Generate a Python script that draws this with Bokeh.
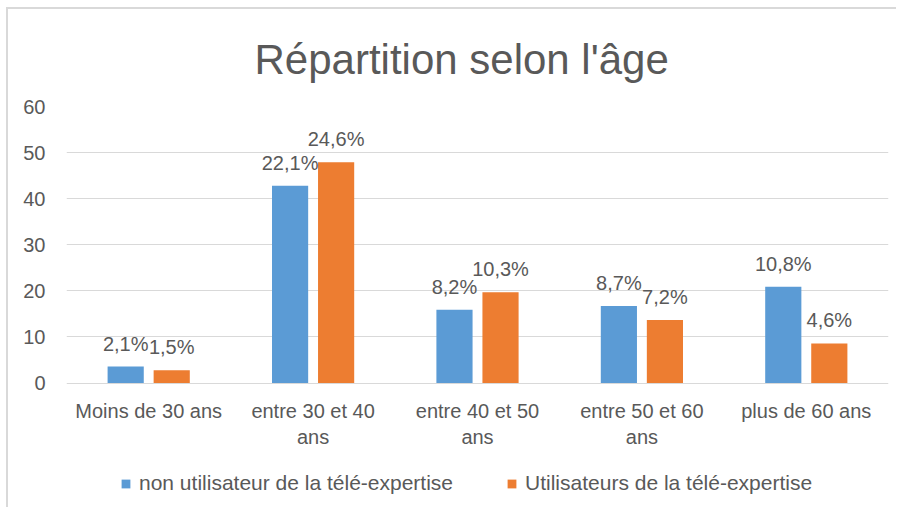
from bokeh.plotting import figure
from bokeh.models import (ColumnDataSource, FactorRange, Range1d, LabelSet, Legend,
                          LegendItem, Title, FixedTicker)
from bokeh.core.properties import value
from bokeh.transform import dodge
from bokeh.embed import file_html
from bokeh.resources import INLINE

categories = ["Moins de 30 ans", "entre 30 et 40 ans", "entre 40 et 50 ans",
              "entre 50 et 60 ans", "plus de 60 ans"]
category_line1 = ["Moins de 30 ans", "entre 30 et 40", "entre 40 et 50",
                  "entre 50 et 60", "plus de 60 ans"]
category_line2 = ["", "ans", "ans", "ans", ""]
non_users = [3.6, 42.8, 15.9, 16.7, 20.9]
users = [2.8, 47.9, 19.7, 13.7, 8.6]
non_users_labels = ["2,1%", "22,1%", "8,2%", "8,7%", "10,8%"]
users_labels = ["1,5%", "24,6%", "10,3%", "7,2%", "4,6%"]
series_names = ["non utilisateur de la télé-expertise", "Utilisateurs de la télé-expertise"]
y_ticks = [0, 10, 20, 30, 40, 50, 60]

FONT = "Liberation Sans"
TXT = "#595959"
GRID = "#d9d9d9"
BLUE = "#5b9bd5"
ORANGE = "#ed7d31"

src = ColumnDataSource(dict(cat=categories, a=non_users, b=users,
                            la=non_users_labels, lb=users_labels,
                            l1=category_line1, l2=category_line2,
                            zero=[0] * len(categories)))

p = figure(x_range=FactorRange(*categories, range_padding=0), y_range=Range1d(-27.42, 60),
           width=890, height=500, output_backend="svg", toolbar_location=None,
           min_border_left=58, min_border_right=10, min_border_top=97, min_border_bottom=0)
p.styles = {"margin-left": "6px", "margin-top": "7px",
            "border-left": f"2px solid {GRID}", "border-top": f"2px solid {GRID}"}
p.outline_line_color = None

t = Title(text="Répartition selon l'âge", align="left", text_font=FONT,
          text_font_size="42px", text_font_style="normal", text_color=TXT,
          standoff=47, offset=188)
p.add_layout(t, "above")

ra = p.vbar(x=dodge("cat", -0.14, range=p.x_range), top="a", width=0.22, source=src,
            fill_color=BLUE, line_color=None)
rb = p.vbar(x=dodge("cat", 0.14, range=p.x_range), top="b", width=0.22, source=src,
            fill_color=ORANGE, line_color=None)

for col, lab, off in (("a", "la", -0.14), ("b", "lb", 0.14)):
    ls = LabelSet(x=dodge("cat", off, range=p.x_range), y=col, text=lab, source=src,
                  text_align="center", text_baseline="alphabetic", y_offset=16,
                  text_font=value(FONT), text_font_size="20px", text_color=TXT)
    p.add_layout(ls)

for col, off in (("l1", -28), ("l2", -54)):
    cl = LabelSet(x="cat", y="zero", text=col, source=src, text_align="center",
                  text_baseline="middle", y_offset=off, text_font=value(FONT),
                  text_font_size="20px", text_color=TXT)
    p.add_layout(cl)

p.yaxis.ticker = FixedTicker(ticks=y_ticks)
p.yaxis.axis_line_color = None
p.yaxis.major_tick_line_color = None
p.yaxis.minor_tick_line_color = None
p.yaxis.major_label_standoff = 15
p.yaxis.major_label_text_font = FONT
p.yaxis.major_label_text_font_size = "20px"
p.yaxis.major_label_text_color = TXT

p.xaxis.visible = False

p.xgrid.grid_line_color = None
p.ygrid.grid_line_color = GRID

legend = Legend(items=[LegendItem(label=series_names[0], renderers=[ra]),
                       LegendItem(label=series_names[1], renderers=[rb])],
                orientation="horizontal", location=(54, 14),
                label_text_font=FONT, label_text_font_size="21px", label_text_color=TXT,
                glyph_width=11, glyph_height=11, label_standoff=8, spacing=53,
                border_line_color=None, background_fill_alpha=0, margin=0, padding=4)
p.add_layout(legend)

open("out.html", "w").write(file_html(p, INLINE))
